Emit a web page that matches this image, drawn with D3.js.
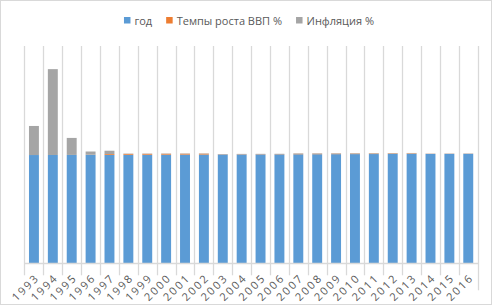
<!DOCTYPE html>
<html lang="ru">
  <head>
    <meta charset="UTF-8" />
    <title>год / ВВП / инфляция</title>
    <style>
      body {
        margin: 0;
        background: #fff;
        font-family: "Open Sans", "Noto Sans", sans-serif;
      }
      svg {
        display: block;
      }
      .legend text {
        font-size: 11px;
        fill: #595959;
      }
      .x-label {
        font-size: 11px;
        fill: #595959;
        letter-spacing: 2px;
        text-anchor: end;
      }
    </style>
  </head>
  <body>
    <script src="https://cdn.jsdelivr.net/npm/d3@7"></script>
    <script>
      const years = [
        "1993", "1994", "1995", "1996", "1997", "1998", "1999", "2000",
        "2001", "2002", "2003", "2004", "2005", "2006", "2007", "2008",
        "2009", "2010", "2011", "2012", "2013", "2014", "2015", "2016"
      ];
      // ряд "год" (значение = сам год)
      const yearValues = [
        1993, 1994, 1995, 1996, 1997, 1998, 1999, 2000,
        2001, 2002, 2003, 2004, 2005, 2006, 2007, 2008,
        2009, 2010, 2011, 2012, 2013, 2014, 2015, 2016
      ];
      // Темпы роста ВВП %
      const gdpGrowth = [
        0, 0, 0, 2, 15, 16, 16, 16,
        16, 16, 4, 5, 5, 5, 9, 9,
        9, 9, 9, 9, 9, 3, 3, 3
      ];
      // Инфляция %
      const inflation = [
        535, 1580, 313, 60, 60, 6, 6, 6,
        6, 6, 5, 5, 5, 5, 9, 9,
        9, 9, 9, 9, 9, 3, 3, 3
      ];
      const seriesNames = ["год", "Темпы роста ВВП %", "Инфляция %"];
      const seriesColors = ["#5b9bd5", "#ed7d31", "#a5a5a5"];
      const yMax = 4000;

      const width = 494;
      const height = 308;
      const plotLeft = 24.5;
      const plotRight = 477.7;
      const plotTop = 46;
      const plotBottom = 263.3;

      const rows = years.map((y, i) => ({
        year: y,
        [seriesNames[0]]: yearValues[i],
        [seriesNames[1]]: gdpGrowth[i],
        [seriesNames[2]]: inflation[i]
      }));
      const stacked = d3.stack().keys(seriesNames)(rows);

      const svg = d3
        .select("body")
        .append("svg")
        .attr("width", width)
        .attr("height", height);

      // рамка диаграммы
      svg
        .append("rect")
        .attr("x", 0.5)
        .attr("y", 0.5)
        .attr("width", 491)
        .attr("height", 304)
        .attr("fill", "#fff")
        .attr("stroke", "#d9d9d9");

      const x = d3
        .scaleBand()
        .domain(years)
        .range([plotLeft, plotRight])
        .paddingInner(0.474)
        .paddingOuter(0.237);
      const y = d3.scaleLinear().domain([0, yMax]).range([plotBottom, plotTop]);

      const step = x.step();
      const gap = step - x.bandwidth();
      const boundaries = years.map(d => x(d) - gap / 2);
      boundaries.push(x(years[years.length - 1]) + x.bandwidth() + gap / 2);

      // вертикальные линии сетки + засечки под осью
      svg
        .append("g")
        .selectAll("line")
        .data(boundaries)
        .enter()
        .append("line")
        .attr("x1", d => Math.round(d) + 0.5)
        .attr("x2", d => Math.round(d) + 0.5)
        .attr("y1", y(yMax))
        .attr("y2", (d, i) => y(0) + (i === boundaries.length - 1 ? 27 : 12))
        .attr("stroke", "#d9d9d9")
        .attr("stroke-width", 1.3);

      // столбцы
      svg
        .append("g")
        .selectAll("g")
        .data(stacked)
        .enter()
        .append("g")
        .attr("fill", (d, i) => seriesColors[i])
        .selectAll("rect")
        .data(d => d)
        .enter()
        .append("rect")
        .attr("x", d => x(d.data.year))
        .attr("width", x.bandwidth())
        .attr("y", d => y(d[1]))
        .attr("height", d => y(d[0]) - y(d[1]));

      // ось X
      svg
        .append("line")
        .attr("x1", Math.round(boundaries[0]))
        .attr("x2", Math.round(boundaries[boundaries.length - 1]) + 1)
        .attr("y1", Math.round(y(0)) + 0.5)
        .attr("y2", Math.round(y(0)) + 0.5)
        .attr("stroke", "#d9d9d9")
        .attr("stroke-width", 1.3);

      svg
        .append("g")
        .selectAll("text")
        .data(years)
        .enter()
        .append("text")
        .attr("class", "x-label")
        .attr(
          "transform",
          d => `translate(${x(d) + x.bandwidth() / 2 + 3},${y(0) + 12}) rotate(-45)`
        )
        .attr("dy", "0.4em")
        .text(d => d);

      // легенда
      const legend = svg.append("g").attr("class", "legend");
      const items = legend
        .selectAll("g")
        .data(seriesNames)
        .enter()
        .append("g");
      items
        .append("rect")
        .attr("width", 6.5)
        .attr("height", 6.5)
        .attr("y", 17)
        .attr("fill", (d, i) => seriesColors[i]);
      items
        .append("text")
        .attr("x", 10.5)
        .attr("y", 24.5)
        .text(d => d);

      let offset = 0;
      const offsets = [];
      items.each(function () {
        const w = 10.5 + d3.select(this).select("text").node().getComputedTextLength();
        offsets.push(offset);
        offset += w + 14;
      });
      const total = offset - 14;
      const start = 249 - total / 2;
      items.attr("transform", (d, i) => `translate(${start + offsets[i]},0)`);
    </script>
  </body>
</html>
